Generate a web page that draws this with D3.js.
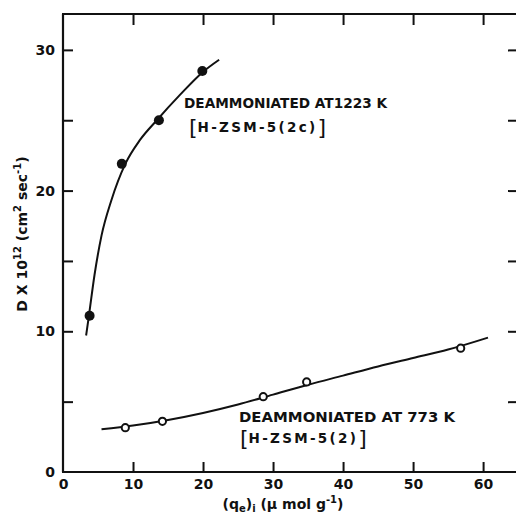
<!DOCTYPE html>
<html><head><meta charset="utf-8">
<script src="https://cdn.jsdelivr.net/npm/d3@7"></script>
<style>
html,body{margin:0;padding:0;background:#fff;}
svg{display:block;}
text{font-family:"DejaVu Sans",sans-serif;font-weight:bold;fill:#111;}
</style></head>
<body>
<svg id="chart" width="516" height="518"></svg>
<script>
// ---- data ----
const xTicks = [0, 10, 20, 30, 40, 50, 60];
const yTicks = [0, 5, 10, 15, 20, 25, 30];
const yTickLabels = [0, 10, 20, 30];

// H-ZSM-5(2c), deammoniated at 1223 K (filled circles)
const q1223 = [3.8, 8.4, 13.7, 19.9];
const d1223 = [11.1, 21.9, 25.0, 28.5];
// fitted curve through 1223 K points
const fitX1223 = [3.3, 3.7, 4.5, 5.5, 6.9, 8.9, 11.0, 13.4, 16.7, 19.9, 22.3];
const fitY1223 = [9.7, 11.1, 14.0, 16.8, 19.3, 21.9, 23.6, 25.0, 26.8, 28.4, 29.3];

// H-ZSM-5(2), deammoniated at 773 K (open circles)
const q773 = [8.9, 14.2, 28.6, 34.8, 56.8];
const d773 = [3.15, 3.6, 5.35, 6.4, 8.8];
const fitX773 = [5.5, 10, 15, 20, 25, 30, 35, 40, 45, 50, 55, 60.7];
const fitY773 = [3.03, 3.3, 3.7, 4.2, 4.8, 5.5, 6.2, 6.85, 7.5, 8.1, 8.7, 9.55];

// ---- drawing ----
const svg = d3.select("#chart");
const x = d3.scaleLinear().domain([0, 64.7]).range([63, 516]);
const y = d3.scaleLinear().domain([0, 32.55]).range([472, 14]);

const ink = "#111";

// frame (left, bottom, top)
svg.append("line").attr("x1", x(0)).attr("x2", x(0)).attr("y1", y(32.55)).attr("y2", y(0))
  .attr("stroke", ink).attr("stroke-width", 2.2);
svg.append("line").attr("x1", x(0) - 1).attr("x2", 516).attr("y1", y(0)).attr("y2", y(0))
  .attr("stroke", ink).attr("stroke-width", 2.2);
svg.append("line").attr("x1", x(0) - 1).attr("x2", 516).attr("y1", y(32.55)).attr("y2", y(32.55))
  .attr("stroke", ink).attr("stroke-width", 2.2);

function styleAxis(g) {
  g.select(".domain").remove();
  g.selectAll(".tick line").attr("stroke", ink).attr("stroke-width", 2);
  g.selectAll(".tick text").attr("fill", ink)
    .style("font-family", "'DejaVu Sans', sans-serif").style("font-weight", "bold")
    .style("font-size", "14px");
}

// bottom axis (ticks pointing inward)
svg.append("g").attr("transform", `translate(0,${y(0)})`)
  .call(d3.axisBottom(x).tickValues(xTicks).tickSizeInner(-10).tickSizeOuter(0).tickPadding(7)
    .tickFormat(d => d))
  .call(styleAxis)
  .call(g => g.selectAll(".tick").filter(d => d === 0).select("line").remove());

// top axis ticks
svg.append("g").attr("transform", `translate(0,${y(32.55)})`)
  .call(d3.axisTop(x).tickValues(xTicks.filter(d => d > 0)).tickSizeInner(-11).tickSizeOuter(0).tickFormat(""))
  .call(styleAxis);

// left axis
svg.append("g").attr("transform", `translate(${x(0)},0)`)
  .call(d3.axisLeft(y).tickValues(yTicks).tickSizeInner(-10).tickSizeOuter(0).tickPadding(8)
    .tickFormat(d => yTickLabels.includes(d) ? d : ""))
  .call(styleAxis)
  .call(g => g.selectAll(".tick").filter(d => d === 0).select("line").remove());

// right axis ticks
svg.append("g").attr("transform", `translate(516,0)`)
  .call(d3.axisRight(y).tickValues(yTicks.filter(d => d > 0)).tickSizeInner(-8).tickSizeOuter(0).tickFormat(""))
  .call(styleAxis);

// fitted curves
const line = d3.line().x(d => x(d[0])).y(d => y(d[1])).curve(d3.curveMonotoneX);
svg.append("path").datum(fitX1223.map((v, i) => [v, fitY1223[i]]))
  .attr("d", line).attr("fill", "none").attr("stroke", ink).attr("stroke-width", 2);
svg.append("path").datum(fitX773.map((v, i) => [v, fitY773[i]]))
  .attr("d", line).attr("fill", "none").attr("stroke", ink).attr("stroke-width", 2);

// markers
svg.append("g").selectAll("circle").data(q1223.map((v, i) => [v, d1223[i]])).join("circle")
  .attr("cx", d => x(d[0])).attr("cy", d => y(d[1])).attr("r", 5).attr("fill", ink);
svg.append("g").selectAll("circle").data(q773.map((v, i) => [v, d773[i]])).join("circle")
  .attr("cx", d => x(d[0])).attr("cy", d => y(d[1])).attr("r", 3.6)
  .attr("fill", "#fff").attr("stroke", ink).attr("stroke-width", 2);

// annotations
function label(xp, yp, text, width) {
  svg.append("text").attr("x", xp).attr("y", yp).style("font-size", "13.5px")
    .attr("textLength", width).attr("lengthAdjust", "spacingAndGlyphs").text(text);
}
function bracketLabel(xp, yp, inner) {
  const t = svg.append("text").attr("x", xp).attr("y", yp).style("font-size", "13.5px");
  t.append("tspan").style("font-size", "22px").style("font-weight", "normal").attr("dy", "3").text("[");
  t.append("tspan").attr("dy", "-3").style("letter-spacing", "2.3px").text(inner);
  t.append("tspan").style("font-size", "22px").style("font-weight", "normal").attr("dy", "3").text("]");
  return t;
}
label(184, 108, "DEAMMONIATED AT1223 K", 203);
bracketLabel(189, 132, "H-ZSM-5(2c)");
label(239, 422, "DEAMMONIATED AT 773 K", 216);
bracketLabel(240, 443, "H-ZSM-5(2)");

// x axis title
const xt = svg.append("text").attr("x", 283).attr("y", 509).attr("text-anchor", "middle").style("font-size", "14px");
xt.append("tspan").text("(q");
xt.append("tspan").attr("dy", 3).style("font-size", "10px").text("e");
xt.append("tspan").attr("dy", -3).text(")");
xt.append("tspan").attr("dy", 3).style("font-size", "10px").text("i");
xt.append("tspan").attr("dy", -3).text(" (μ mol  g");
xt.append("tspan").attr("dy", -6).style("font-size", "10px").text("-1");
xt.append("tspan").attr("dy", 6).text(")");

// y axis title
const yt = svg.append("text").attr("transform", "translate(27,234) rotate(-90)")
  .attr("text-anchor", "middle").style("font-size", "14px");
yt.append("tspan").text("D X 10");
yt.append("tspan").attr("dy", -6).style("font-size", "10px").text("12");
yt.append("tspan").attr("dy", 6).text(" (cm");
yt.append("tspan").attr("dy", -6).style("font-size", "10px").text("2");
yt.append("tspan").attr("dy", 6).text(" sec");
yt.append("tspan").attr("dy", -6).style("font-size", "10px").text("-1");
yt.append("tspan").attr("dy", 6).text(")");
</script>
</body></html>
